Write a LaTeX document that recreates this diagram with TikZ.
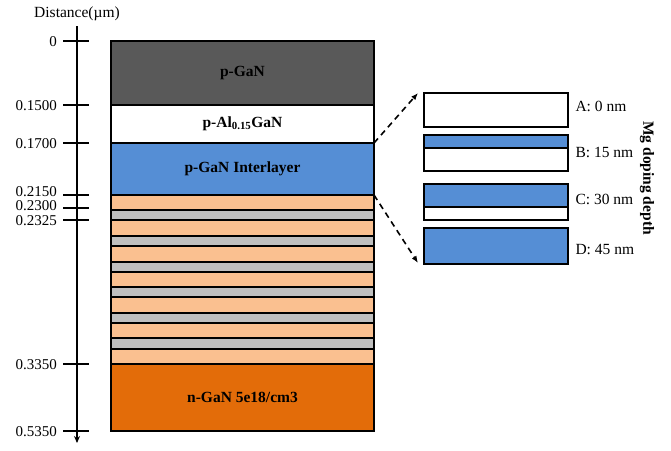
\documentclass[tikz,border=0pt]{standalone}
\usepackage{fontspec}
\setmainfont{Liberation Serif}
\usetikzlibrary{arrows.meta}
\definecolor{pgangray}{HTML}{595959}
\definecolor{ilblue}{HTML}{558ED5}
\definecolor{slpeach}{HTML}{FAC090}
\definecolor{slgray}{HTML}{BFBFBF}
\definecolor{ngan}{HTML}{E36C09}
\begin{document}
\begin{tikzpicture}[x=1pt,y=-1pt,
  font=\fontsize{15.5}{18}\selectfont,
  layer/.style={draw=black, line width=1.6pt, minimum width=263, inner sep=0pt, outer sep=0pt},
  sample/.style={draw=black, line width=1.6pt, minimum width=144, inner sep=0pt, outer sep=0pt},
  ticklabel/.style={anchor=east, inner sep=0pt, text height=10pt, text depth=0pt,
    font=\fontsize{15}{17}\selectfont},
  axisline/.style={line width=1.6pt},
  zoomline/.style={line width=1.6pt, dash pattern=on 6pt off 4.5pt, -{Latex[length=7pt,width=5.5pt]}}]
\useasboundingbox (0,0) rectangle (671,450);

% depth axis
\coordinate (axtop) at (77,26);
\coordinate (axbot) at (77,443);
\draw[axisline, -{Stealth[length=7pt,width=6pt]}] (axtop) -- (axbot);
\node (axtitle) at (77,14) {Distance(\textmu m)};
\foreach \y/\ly/\t [count=\i] in {41/41/0, 105/105/0.1500, 143/143/0.1700, 195/191.5/0.2150,
    208/205.5/0.2300, 220/220/0.2325, 364/364/0.3350, 431/431/0.5350} {
  \draw[axisline] (63,\y) -- (89,\y);
  \node[ticklabel] (tick\i) at (57,\ly) {\t};
}

% epitaxial stack
\node[layer, fill=pgangray, minimum height=64] (pgan) at (242.5,73) {\textbf{p-GaN}};
\node[layer, fill=white, minimum height=38] (algan) at (242.5,124) {\textbf{p-Al\textsubscript{0.15}GaN}};
\node[layer, fill=ilblue, minimum height=52] (inter) at (242.5,169) {\textbf{p-GaN Interlayer}};
\foreach \a/\b/\c [count=\i] in {195/210/slpeach, 210/220/slgray, 220/236/slpeach, 236/246/slgray,
    246/262/slpeach, 262/272/slgray, 272/287/slpeach, 287/297/slgray, 297/313/slpeach,
    313/323/slgray, 323/338/slpeach, 338/349/slgray, 349/364/slpeach} {
  \node[layer, fill=\c, minimum height={\b-\a}] (sl\i) at (242.5,{(\a+\b)/2}) {};
}
\node[layer, fill=ngan, minimum height=67] (ngan) at (242.5,397.5) {\textbf{n-GaN 5e18/cm3}};

% doping-depth variants
\node[sample, fill=white, minimum height=34] (sa) at (496,110) {};
\node[sample, fill=white, minimum height=36] (sb) at (496,153) {};
\fill[ilblue] (sb.north west) rectangle (568,148);
\draw[line width=1.6pt] (424,148) -- (568,148);
\draw[line width=1.6pt] (sb.north west) rectangle (sb.south east);
\node[sample, fill=white, minimum height=36] (sc) at (496,202) {};
\fill[ilblue] (sc.north west) rectangle (568,207);
\draw[line width=1.6pt] (424,207) -- (568,207);
\draw[line width=1.6pt] (sc.north west) rectangle (sc.south east);
\node[sample, fill=ilblue, minimum height=36] (sd) at (496,246) {};

\node[anchor=west] (la) at (572,106) {A: 0 nm};
\node[anchor=west] (lb) at (572,152) {B: 15 nm};
\node[anchor=west] (lc) at (572,199) {C: 30 nm};
\node[anchor=west] (ld) at (572,250) {D: 45 nm};
\node[rotate=-90] (mgdepth) at (647,178) {\textbf{Mg doping depth}};

% zoom connectors
\coordinate (ztop) at (418,93);
\coordinate (zbot) at (418,263);
\draw[zoomline] (inter.north east) -- (ztop);
\draw[zoomline] (inter.south east) -- (zbot);
\end{tikzpicture}
\end{document}
